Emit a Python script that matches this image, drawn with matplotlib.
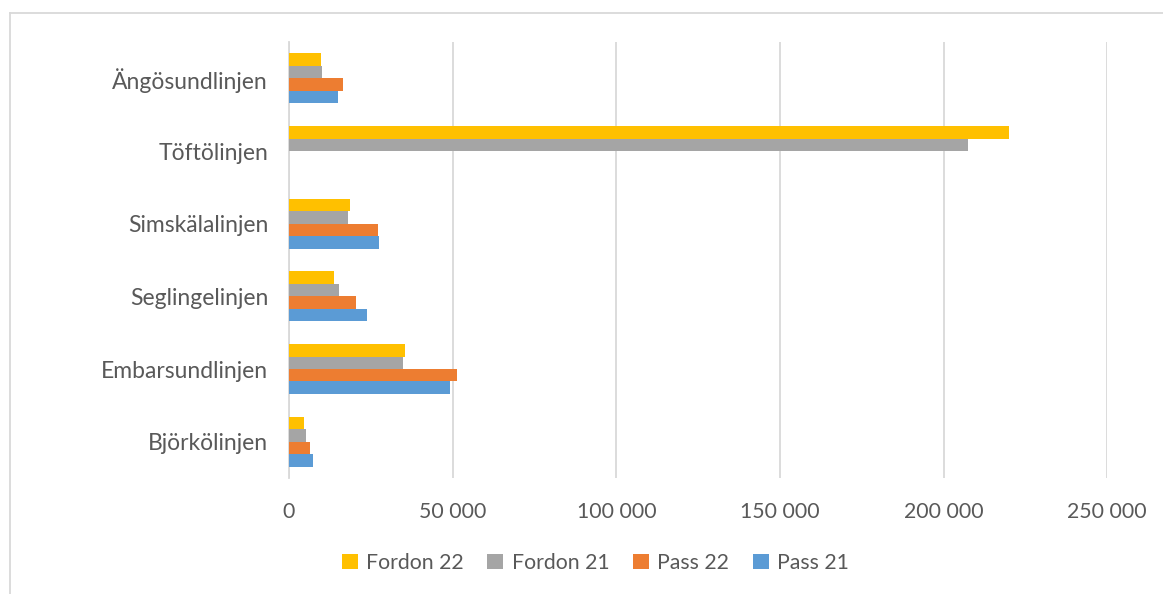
import numpy as np
import matplotlib
matplotlib.use('Agg')
import matplotlib.pyplot as plt
from matplotlib.lines import Line2D
from matplotlib.patches import Patch
from matplotlib.ticker import FuncFormatter

plt.rcParams['font.family'] = ['Lato', 'DejaVu Sans']

# categories from bottom to top
linjer = ['Björkölinjen', 'Embarsundlinjen', 'Seglingelinjen',
          'Simskälalinjen', 'Töftölinjen', 'Ängösundlinjen']

# values
pass_21 = [7300, 49200, 23900, 27500, 0, 15100]
pass_22 = [6500, 51200, 20500, 27200, 0, 16500]
fordon_21 = [5100, 34900, 15300, 18100, 207300, 10100]
fordon_22 = [4500, 35400, 13900, 18700, 220000, 9700]

series = [('Fordon 22', fordon_22, '#FFC000'),
          ('Fordon 21', fordon_21, '#A5A5A5'),
          ('Pass 22', pass_22, '#ED7D31'),
          ('Pass 21', pass_21, '#5B9BD5')]

fig = plt.figure(figsize=(11.63, 5.94), dpi=100)
ax = fig.add_axes([289 / 1163, 1 - 478 / 594, (1107.3 - 289) / 1163, 436 / 594])

y = np.arange(len(linjer))
h = 0.172
# top bar in group is Fordon 22, bottom is Pass 21
offsets = [1.5 * h, 0.5 * h, -0.5 * h, -1.5 * h]
for (name, vals, col), off in zip(series, offsets):
    ax.barh(y + off, vals, height=h, color=col, label=name, zorder=3)

ax.set_xlim(0, 250000)
ax.set_ylim(-0.5, len(linjer) - 0.5)
ax.set_xticks(np.arange(0, 250001, 50000))
ax.xaxis.set_major_formatter(FuncFormatter(lambda v, p: f'{int(v):,}'.replace(',', ' ')))
ax.set_yticks(y)
ax.set_yticklabels(linjer)
ax.grid(axis='x', color='#D9D9D9', linewidth=1.3, zorder=0)
for s in ['top', 'right', 'bottom']:
    ax.spines[s].set_visible(False)
ax.spines['left'].set_color('#D9D9D9')
ax.spines['left'].set_linewidth(1.3)
ax.tick_params(axis='both', length=0, colors='#595959')
ax.tick_params(axis='x', labelsize=15.3, pad=17)
ax.tick_params(axis='y', labelsize=16.5, pad=15)

# chart area border (left and top visible)
fig.add_artist(Line2D([10 / 1163, 10 / 1163], [0, 1 - 13 / 594], color='#D9D9D9', linewidth=1.3))
fig.add_artist(Line2D([10 / 1163, 1], [1 - 13 / 594, 1 - 13 / 594], color='#D9D9D9', linewidth=1.3))

handles = [Patch(facecolor=c, label=n) for n, v, c in series]
fig.legend(handles=handles, loc='center', bbox_to_anchor=(0.512, 1 - 563 / 594), ncol=4,
           frameon=False, fontsize=15.3, labelcolor='#595959', handlelength=0.75,
           handleheight=0.75, handletextpad=0.4, columnspacing=1.1)

fig.savefig('out.png', dpi=100)
